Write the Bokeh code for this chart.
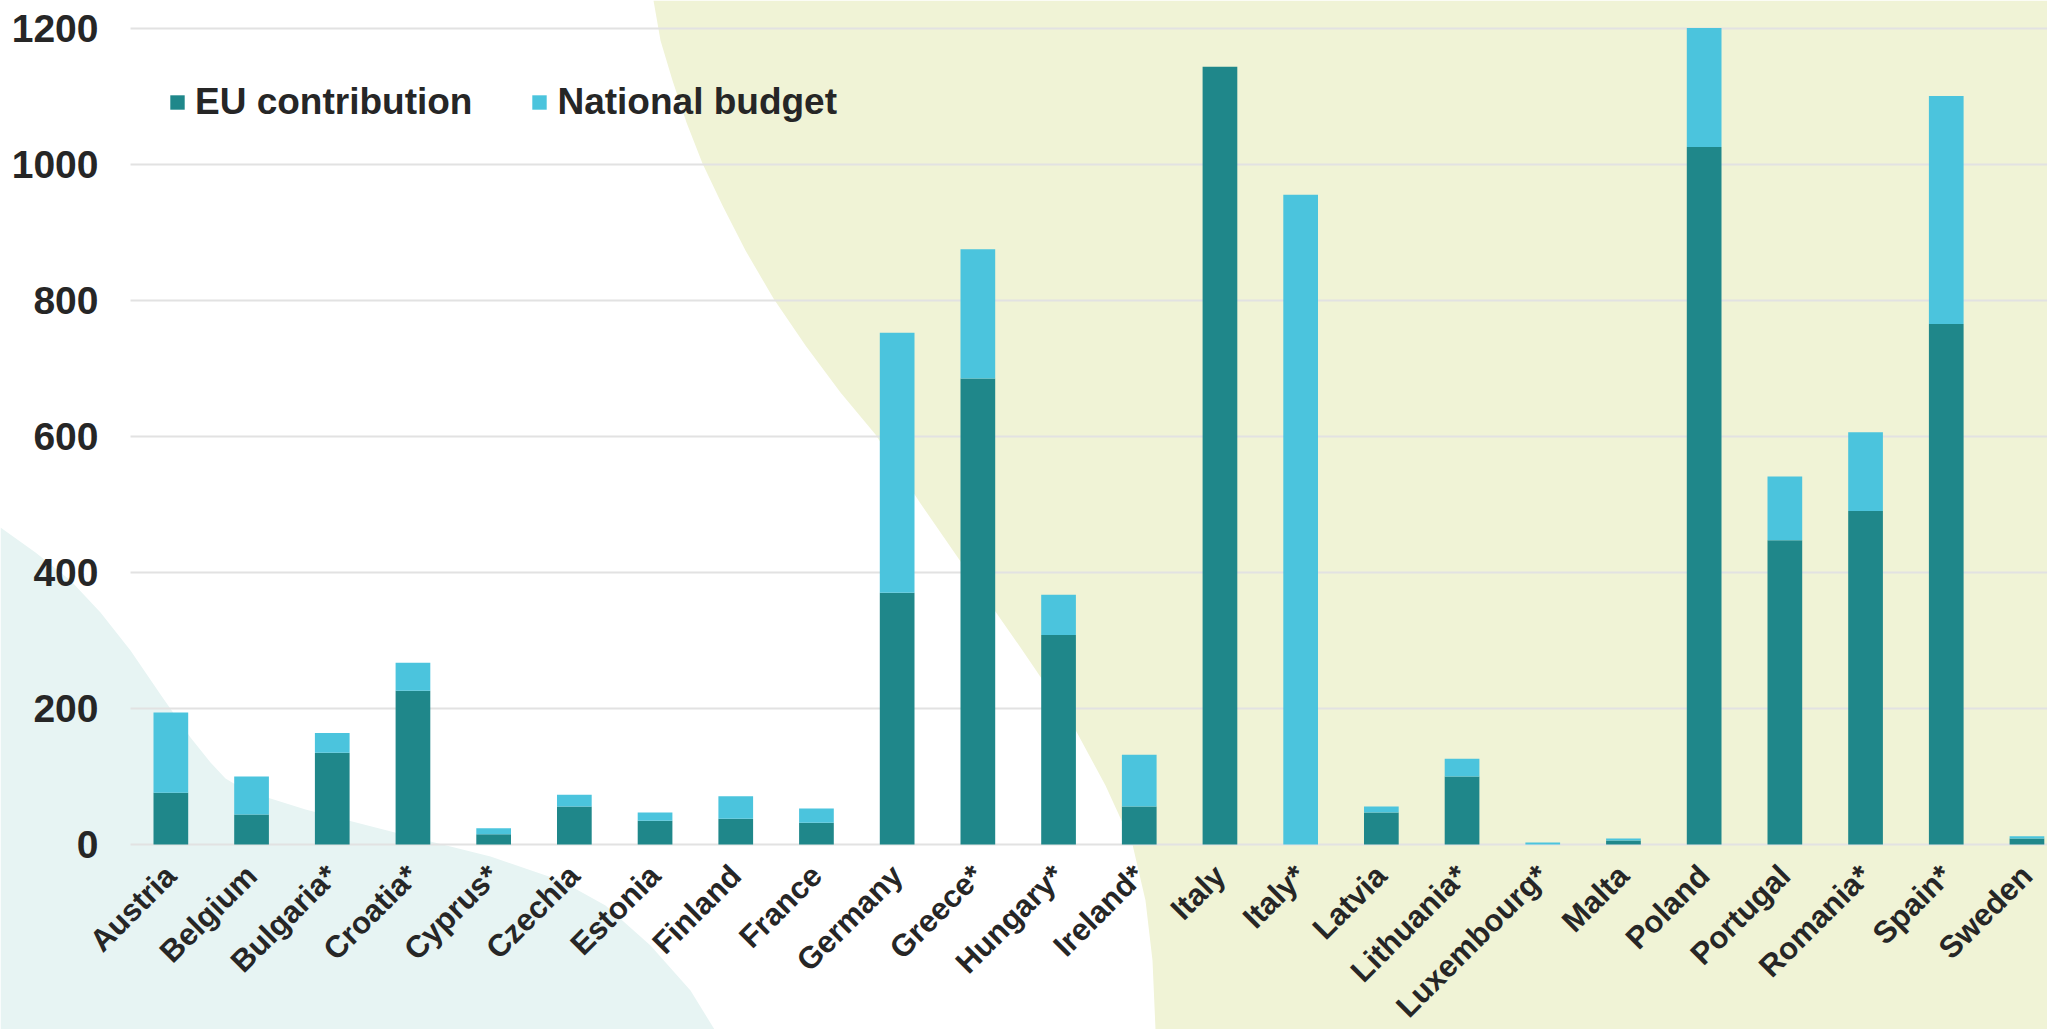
import numpy as np
from bokeh.plotting import figure
from bokeh.models import (PolyAnnotation, FixedTicker, Legend, LegendItem,
                          ColumnDataSource, Grid)
from bokeh.embed import file_html
from bokeh.resources import INLINE

# ---- data ----
countries = ["Austria", "Belgium", "Bulgaria*", "Croatia*", "Cyprus*", "Czechia",
             "Estonia", "Finland", "France", "Germany", "Greece*", "Hungary*",
             "Ireland*", "Italy", "Italy*", "Latvia", "Lithuania*", "Luxembourg*",
             "Malta", "Poland", "Portugal", "Romania*", "Spain*", "Sweden"]
eu_contribution = [76, 44, 135, 226, 15, 56, 35, 38, 32, 370, 685, 308,
                   56, 1143, 0, 47, 100, 0, 6, 1025, 447, 490, 765, 9]
national_budget = [118, 56, 29, 41, 9, 17, 12, 33, 21, 382, 190, 59,
                   76, 0, 955, 9, 26, 3, 3, 175, 94, 116, 335, 3]
y_ticks = [0, 200, 400, 600, 800, 1000, 1200]
series_labels = ["EU contribution", "National budget"]

# ---- styling ----
C_EU = "#1F878A"
C_NAT = "#4BC4DD"
C_TEXT = "#262626"
FONT = "Liberation Sans"
W, H = 2047, 1029
PX_X = 80.7          # pixels per category
X0_PX = 130          # left edge of the category band area
Y0_PX = 844          # pixel row of value 0
PX_Y = 0.6804        # pixels per unit

# background decoration (page pixels, y downward)
yellow_x = [653, 660, 672, 686, 702, 722, 745, 773, 805, 840, 875, 920, 967,
            1020, 1071, 1105, 1132, 1145, 1152, 1155, 2047, 2047]
yellow_y = [0, 40, 80, 122, 163, 205, 250, 298, 345, 392, 434, 503, 571,
            647, 722, 785, 844, 900, 960, 1029, 1029, 0]
teal_x = [0, 35, 70, 100, 130, 160, 190, 210, 225, 245, 270, 305, 340, 410,
          490, 560, 605, 650, 690, 714, 0]
teal_y = [527, 552, 580, 612, 650, 694, 737, 762, 778, 790, 798, 809, 818, 836,
          856, 880, 905, 945, 990, 1029, 1029]

x_start = -0.5 - X0_PX / PX_X
x_end = -0.5 + (W - X0_PX) / PX_X
y_end = Y0_PX / PX_Y
y_start = -(H - Y0_PX) / PX_Y

p = figure(width=W, height=H, x_range=(x_start, x_end), y_range=(y_start, y_end),
           output_backend="svg", toolbar_location=None,
           min_border_left=0, min_border_right=0, min_border_top=0,
           min_border_bottom=0)
p.background_fill_color = "white"
p.border_fill_color = "white"
p.outline_line_color = None

yellow = PolyAnnotation(xs=yellow_x, ys=yellow_y, xs_units="canvas", ys_units="canvas",
                        fill_color="#F0F3D6", fill_alpha=1.0, line_color=None, level="image")
teal = PolyAnnotation(xs=teal_x, ys=teal_y, xs_units="canvas", ys_units="canvas",
                      fill_color="#E7F4F3", fill_alpha=1.0, line_color=None, level="image")
p.add_layout(yellow)
p.add_layout(teal)

# grid
p.xgrid.grid_line_color = None
p.ygrid.grid_line_color = None
band_lo, band_hi = -0.5, x_end + 1
if "cross_bounds" in Grid.properties():
    g = p.ygrid[0]
    g.grid_line_color = "#E2E2E2"
    g.grid_line_width = 2
    g.ticker = FixedTicker(ticks=y_ticks)
    g.cross_bounds = (band_lo, band_hi)
else:
    p.segment(x0=[band_lo] * len(y_ticks), x1=[band_hi] * len(y_ticks),
              y0=y_ticks, y1=y_ticks, line_color="#E2E2E2", line_width=2)

src = ColumnDataSource(dict(x=list(range(len(countries))), eu=eu_contribution,
                            national=national_budget))
rs = p.vbar_stack(["eu", "national"], x="x", width=0.43, source=src,
                  fill_color=[C_EU, C_NAT], line_color=None)

# axes (fixed inside the canvas so the frame spans the whole page)
xa = p.xaxis[0]
xa.fixed_location = 0
xa.ticker = FixedTicker(ticks=list(range(len(countries))))
xa.major_label_overrides = {i: c for i, c in enumerate(countries)}
xa.major_label_orientation = np.pi / 4
xa.axis_line_color = None
xa.major_tick_line_color = None
xa.minor_tick_line_color = None
xa.major_tick_out = 0
xa.major_label_standoff = 26
xa.major_label_text_font = FONT
xa.major_label_text_font_style = "bold"
xa.major_label_text_font_size = "31px"
xa.major_label_text_color = C_TEXT

ya = p.yaxis[0]
ya.fixed_location = -0.5
ya.ticker = FixedTicker(ticks=y_ticks)
ya.axis_line_color = None
ya.major_tick_line_color = None
ya.minor_tick_line_color = None
ya.major_tick_out = 0
ya.major_label_standoff = 32
ya.major_label_text_font = FONT
ya.major_label_text_font_style = "bold"
ya.major_label_text_font_size = "39px"
ya.major_label_text_color = C_TEXT

legend = Legend(items=[LegendItem(label=series_labels[0], renderers=[rs[0]]),
                       LegendItem(label=series_labels[1], renderers=[rs[1]])],
                orientation="horizontal", location=(168, 906),
                label_text_font=FONT, label_text_font_style="bold",
                label_text_font_size="37px", label_text_color=C_TEXT,
                glyph_width=18, glyph_height=18, label_standoff=9, spacing=58,
                padding=0, margin=0, border_line_color=None,
                background_fill_alpha=0)
p.add_layout(legend)

open("out.html", "w").write(file_html(p, INLINE))
